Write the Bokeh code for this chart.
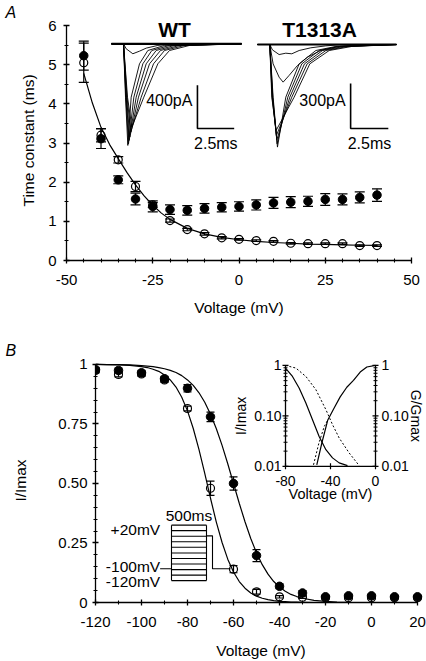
import math
from bokeh.plotting import figure
from bokeh.models import Range1d, FixedTicker, LogScale
from bokeh.embed import file_html
from bokeh.resources import INLINE
from bokeh.core.properties import value

FONT = "Liberation Sans"
INK = "black"

# ======================= Panel A data =======================
a_voltage = [-45, -40, -35, -30, -25, -20, -15, -10, -5, 0, 5, 10, 15, 20, 25, 30, 35, 40]
a_wt_tau = [5.05, 3.20, 2.57, 1.89, 1.42, 1.02, 0.79, 0.68, 0.58, 0.54, 0.51, 0.49, 0.44, 0.43, 0.43, 0.43, 0.38, 0.38]
a_wt_err = [0.50, 0.17, 0.08, 0.13, 0.06, 0.04, 0.03, 0.03, 0.03, 0.02, 0.02, 0.02, 0.02, 0.02, 0.02, 0.02, 0.02, 0.02]
a_mut_tau = [5.23, 3.11, 2.06, 1.57, 1.38, 1.30, 1.28, 1.33, 1.36, 1.38, 1.42, 1.47, 1.49, 1.51, 1.56, 1.56, 1.61, 1.67]
a_mut_err = [0.37, 0.25, 0.10, 0.15, 0.14, 0.12, 0.12, 0.12, 0.12, 0.12, 0.13, 0.14, 0.14, 0.13, 0.15, 0.14, 0.14, 0.16]
a_fit_v = [-45, -42.5, -40, -37.5, -35, -32.5, -30, -27.5, -25, -22.5, -20, -15, -10, -5, 0, 5, 10, 15, 20, 25, 30, 35, 40]
a_fit_tau = [4.78, 4.02, 3.40, 2.96, 2.60, 2.25, 1.93, 1.65, 1.41, 1.21, 1.05, 0.82, 0.68, 0.59, 0.53, 0.49, 0.46, 0.44, 0.42, 0.41, 0.40, 0.39, 0.385]
a_x_ticks = [-50, -25, 0, 25, 50]
a_x_labels = ["-50", "-25", "0", "25", "50"]
a_x_minor = [-45, -40, -35, -30, -20, -15, -10, -5, 5, 10, 15, 20, 30, 35, 40, 45]
a_y_ticks = [0, 1, 2, 3, 4, 5, 6]
a_y_labels = ["0", "1", "2", "3", "4", "5", "6"]
a_y_minor = [0.5, 1.5, 2.5, 3.5, 4.5, 5.5]

# current traces (time in ms, current in pA)
wt_trace_t = [
    [-0.82, 0, 0.136, 0.295, 0.522, 1.088, 1.655, 2.789, 8.03],
    [-0.82, 0, 0.159, 0.340, 0.703, 1.315, 1.927, 3.129, 8.03],
    [-0.82, 0, 0.181, 0.385, 0.862, 1.542, 2.222, 3.469, 8.03],
    [-0.82, 0, 0.204, 0.431, 1.020, 1.769, 2.517, 3.810, 8.03],
    [-0.82, 0, 0.238, 0.499, 1.202, 2.041, 2.789, 4.150, 8.03],
    [-0.82, 0, 0.272, 0.567, 1.383, 2.336, 3.129, 4.490, 8.03],
    [-0.82, 0, 0.181, 0.635, 1.088, 1.542, 2.336, 3.243, 8.03],
]
wt_trace_i = [
    [0, 0, -493, -939, -493, -185, -62, -15, 0],
    [0, 0, -493, -924, -493, -185, -62, -15, 0],
    [0, 0, -493, -893, -493, -185, -62, -15, 0],
    [0, 0, -493, -862, -493, -185, -62, -15, 0],
    [0, 0, -493, -816, -493, -185, -62, -15, 0],
    [0, 0, -493, -770, -493, -185, -62, -15, 0],
    [0, 0, -46, -92, -68, -40, -15, -3, 0],
]
wt_base_t = [-0.82, 8.03]
wt_base_i = [0, 0]
mut_trace_t = [
    [-0.82, 0, 0.221, 0.509, 1.062, 1.947, 3.053, 4.381, 8.40],
    [-0.82, 0, 0.199, 0.487, 1.195, 2.124, 3.274, 4.646, 8.40],
    [-0.82, 0, 0.177, 0.465, 1.327, 2.301, 3.496, 4.912, 8.40],
    [-0.82, 0, 0.155, 0.442, 1.460, 2.478, 3.717, 5.177, 8.40],
    [-0.82, 0, 0.133, 0.420, 1.615, 2.655, 3.938, 5.442, 8.40],
    [-0.82, 0, 0.221, 0.619, 0.885, 1.283, 1.836, 2.500, 3.385, 4.491, 5.929, 8.40],
    [-0.82, 0, 0.177, 0.619, 1.062, 1.460, 1.947, 2.721, 3.717, 4.602, 8.40],
]
mut_trace_i = [
    [0, 0, -351, -684, -351, -129, -40, -13, 0],
    [0, 0, -351, -662, -351, -129, -40, -13, 0],
    [0, 0, -351, -635, -351, -129, -40, -13, 0],
    [0, 0, -351, -606, -351, -129, -40, -13, 0],
    [0, 0, -351, -573, -351, -129, -40, -13, 0],
    [0, 0, -129, -218, -251, -206, -140, -84, -40, -13, -2, 0],
    [0, 0, -36, -67, -58, -62, -40, -22, -9, -2, 0],
]
mut_base_t = [-0.82, 8.40]
mut_base_i = [0, 0]
wt_bar = {"ms": 2.5, "pA": 400, "t0": 5.03, "i0": -783}
mut_bar = {"ms": 2.5, "pA": 300, "t0": 5.36, "i0": -560}

# ======================= Panel B data =======================
b_voltage = [-120, -110, -100, -90, -80, -70, -60, -50, -40, -30, -20, -10, 0, 10, 20]
b_wt = [0.975, 0.958, 0.96, 0.935, 0.815, 0.48, 0.14, 0.045, 0.024, 0.022, 0.02, 0.02, 0.02, 0.02, 0.02]
b_wt_err = [0.01, 0.01, 0.01, 0.01, 0.01, 0.03, 0.015, 0.01, 0.005, 0.005, 0.005, 0.005, 0.005, 0.005, 0.005]
b_mut = [0.978, 0.975, 0.965, 0.94, 0.90, 0.78, 0.50, 0.197, 0.068, 0.04, 0.024, 0.028, 0.028, 0.024, 0.024]
b_mut_err = [0.01, 0.01, 0.01, 0.01, 0.015, 0.02, 0.028, 0.025, 0.01, 0.01, 0.005, 0.005, 0.005, 0.005, 0.005]
b_fit_v = [-120, -115, -110, -105, -100, -97.5, -95, -92.5, -90, -87.5, -85, -82.5, -80, -77.5, -75,
           -72.5, -70, -67.5, -65, -62.5, -60, -57.5, -55, -52.5, -50, -47.5, -45, -42.5, -40,
           -37.5, -35, -32.5, -30, -25, -20, -15, -10, 0, 10, 20]
b_fit_wt = [1.000, 0.999, 0.998, 0.996, 0.991, 0.987, 0.980, 0.971, 0.956, 0.935, 0.905, 0.862, 0.805,
            0.731, 0.642, 0.542, 0.438, 0.339, 0.253, 0.182, 0.128, 0.088, 0.060, 0.040, 0.027, 0.018,
            0.012, 0.008, 0.005, 0.0035, 0.002, 0.0015, 0.001, 0.0, 0.0, 0.0, 0.0, 0.0, 0.0, 0.0]
b_fit_mut = [1.000, 0.999, 0.999, 0.998, 0.995, 0.993, 0.991, 0.987, 0.982, 0.975, 0.966, 0.953, 0.935,
             0.912, 0.881, 0.841, 0.791, 0.731, 0.661, 0.583, 0.500, 0.417, 0.339, 0.269, 0.209, 0.159,
             0.119, 0.088, 0.065, 0.047, 0.034, 0.025, 0.018, 0.009, 0.005, 0.002, 0.001, 0.0, 0.0, 0.0]
b_x_ticks = [-120, -100, -80, -60, -40, -20, 0, 20]
b_x_labels = ["-120", "-100", "-80", "-60", "-40", "-20", "0", "20"]
b_x_minor = [-110, -90, -70, -50, -30, -10, 10]
b_y_ticks = [0, 0.25, 0.5, 0.75, 1]
b_y_labels = ["0", "0.25", "0.50", "0.75", "1"]
b_y_minor = [0.05, 0.1, 0.15, 0.2, 0.3, 0.35, 0.4, 0.45, 0.55, 0.6, 0.65, 0.7, 0.8, 0.85, 0.9, 0.95]

# inset (log scale)
in_wt_inact_v = [-80, -73.8, -67.9, -61.9, -56.0, -50.1, -44.1, -38.2, -32.3, -24.9]
in_wt_inact = [0.888, 0.605, 0.357, 0.18, 0.084, 0.039, 0.0214, 0.0147, 0.0117, 0.0103]
in_mut_inact_v = [-80, -70.8, -61.9, -53.0, -44.1, -38.2, -32.3, -23.4, -14.5]
in_mut_inact = [1.0, 0.888, 0.605, 0.331, 0.133, 0.067, 0.0365, 0.0184, 0.0103]
in_wt_act_v = [-52.2, -47.7, -42.4, -37.0, -31.4, -25.5, -19.6, -13.6, -7.7, 0]
in_wt_act = [0.0107, 0.029, 0.083, 0.14, 0.238, 0.37, 0.507, 0.74, 0.93, 1.0]
in_mut_act_v = [-55.1, -50.3, -45.5, -42.4]
in_mut_act = [0.0107, 0.029, 0.062, 0.083]
in_y_ticks = [1, 0.1, 0.01]
in_y_labels = ["1", "0.10", "0.01"]
in_y_minor = [0.02, 0.03, 0.04, 0.05, 0.06, 0.07, 0.08, 0.09, 0.2, 0.3, 0.4, 0.5, 0.6, 0.7, 0.8, 0.9]
in_x_ticks = [-80, -40, 0]
in_x_labels = ["-80", "-40", "0"]

# stimulation protocol sketch (drawn in panel-B axis units)
proto_box_x = [-86.96, -71.74]
proto_lines_y = [0.325, 0.302, 0.278, 0.255, 0.232, 0.208, 0.185, 0.162, 0.138, 0.115, 0.092]
proto_step_x = [-71.74, -69.13, -69.13, -61.30]
proto_step_y = [0.280, 0.280, 0.142, 0.142]
proto_hold_x = [-91.9, -86.96]
proto_hold_y = [0.142, 0.142]

W = 426
HA = 328
HB = 333


def style_axis(ax, ticks, labels, minor, title, tick_standoff, title_standoff):
    ax.ticker = FixedTicker(ticks=ticks, minor_ticks=minor)
    ax.major_label_overrides = {t: l for t, l in zip(ticks, labels)}
    ax.axis_line_color = INK
    ax.axis_line_width = 1.3
    ax.major_tick_line_color = INK
    ax.major_tick_line_width = 1.3
    ax.minor_tick_line_color = INK
    ax.minor_tick_line_width = 1.1
    ax.major_tick_in = 3
    ax.major_tick_out = 3
    ax.minor_tick_in = 2
    ax.minor_tick_out = 2
    ax.major_label_text_font = FONT
    ax.major_label_text_font_size = "15px"
    ax.major_label_text_color = INK
    ax.major_label_standoff = tick_standoff
    ax.axis_label = title
    ax.axis_label_text_font = FONT
    ax.axis_label_text_font_size = "15.5px"
    ax.axis_label_text_font_style = "normal"
    ax.axis_label_text_color = INK
    ax.axis_label_standoff = title_standoff


def panel_title(p, letter, offset):
    p.title.text = letter
    p.title.text_font = FONT
    p.title.text_font_size = "16px"
    p.title.text_font_style = "italic"
    p.title.text_color = INK
    p.title.align = "left"
    p.title.offset = offset
    p.title.standoff = 0


def error_bars(p, x, y, err, cap, **kw):
    lo = [v - e for v, e in zip(y, err)]
    hi = [v + e for v, e in zip(y, err)]
    p.segment(x, lo, x, hi, line_color=INK, line_width=1.2, **kw)
    p.scatter(x, lo, marker="dash", size=cap, line_color=INK, line_width=1.2, **kw)
    p.scatter(x, hi, marker="dash", size=cap, line_color=INK, line_width=1.2, **kw)


# ======================= Panel A =======================
pA = figure(width=W, height=HA, output_backend="svg", toolbar_location=None,
            x_range=Range1d(-50, 50), y_range=Range1d(0, 6.128),
            extra_x_ranges={"twt": Range1d(-3.878, 19.592), "tmut": Range1d(-13.48, 9.397)},
            extra_y_ranges={"iwt": Range1d(-2002.3, 215.3), "imut": Range1d(-1440.0, 160.0)},
            min_border_left=66, min_border_right=15, min_border_top=20, min_border_bottom=68)
pA.outline_line_color = None
pA.xgrid.visible = False
pA.ygrid.visible = False
pA.background_fill_color = "white"
pA.border_fill_color = "white"
panel_title(pA, "A", -61)
style_axis(pA.xaxis[0], a_x_ticks, a_x_labels, a_x_minor, "Voltage (mV)", 11, 11)
style_axis(pA.yaxis[0], a_y_ticks, a_y_labels, a_y_minor, "Time constant (ms)", 7, 8)
pA.yaxis[0].bounds = (0, 6)

# traces
pA.multi_line(wt_trace_t, wt_trace_i, line_color=INK, line_width=0.9,
              x_range_name="twt", y_range_name="iwt")
pA.line(wt_base_t, wt_base_i, line_color=INK, line_width=2.2, x_range_name="twt", y_range_name="iwt")
pA.multi_line(mut_trace_t, mut_trace_i, line_color=INK, line_width=0.9,
              x_range_name="tmut", y_range_name="imut")
pA.line(mut_base_t, mut_base_i, line_color=INK, line_width=2.2, x_range_name="tmut", y_range_name="imut")

for bar, xr, yr, lab in [(wt_bar, "twt", "iwt", "400pA"), (mut_bar, "tmut", "imut", "300pA")]:
    t0, i0 = bar["t0"], bar["i0"]
    pA.line([t0, t0, t0 + bar["ms"]], [i0 + bar["pA"], i0, i0], line_color=INK, line_width=1.6,
            x_range_name=xr, y_range_name=yr)
    pA.text([t0], [i0 + bar["pA"] / 2], text=[lab], x_offset=-5, y_offset=-6,
            text_align="right", text_baseline="middle", text_font=value(FONT),
            text_font_size="16px", text_color=INK, x_range_name=xr, y_range_name=yr)
    pA.text([t0 + bar["ms"] / 2], [i0], text=["2.5ms"], y_offset=14.5,
            text_align="center", text_baseline="middle", text_font=value(FONT),
            text_font_size="16px", text_color=INK, x_range_name=xr, y_range_name=yr)

pA.text([3.47], [130], text=["WT"], text_align="center", text_baseline="middle",
        text_font=value(FONT), text_font_size="21px", text_font_style="bold", text_color=INK,
        x_range_name="twt", y_range_name="iwt")
pA.text([3.30], [98], text=["T1313A"], text_align="center", text_baseline="middle",
        text_font=value(FONT), text_font_size="21px", text_font_style="bold", text_color=INK,
        x_range_name="tmut", y_range_name="imut")

# data
pA.scatter(a_voltage, a_wt_tau, marker="circle", size=8, fill_color="white", line_color=INK, line_width=1.2)
error_bars(pA, a_voltage, a_wt_tau, a_wt_err, 10)
pA.scatter(a_voltage, a_mut_tau, marker="circle", size=8.5, fill_color=INK, line_color=INK)
error_bars(pA, a_voltage, a_mut_tau, a_mut_err, 10)
pA.line(a_fit_v, a_fit_tau, line_color=INK, line_width=1.2)

# ======================= Panel B =======================
pB = figure(width=W, height=HB, output_backend="svg", toolbar_location=None,
            x_range=Range1d(-120, 23.913), y_range=Range1d(0, 1.025),
            extra_x_ranges={"ix": Range1d(-248.89, 45.33)},
            extra_y_ranges={"iy": Range1d(1.995e-5, 1.373)},
            extra_y_scales={"iy": LogScale()},
            min_border_left=95, min_border_right=0, min_border_top=30, min_border_bottom=57)
pB.outline_line_color = None
pB.xgrid.visible = False
pB.ygrid.visible = False
pB.background_fill_color = "white"
pB.border_fill_color = "white"
panel_title(pB, "B", -90)
style_axis(pB.xaxis[0], b_x_ticks, b_x_labels, b_x_minor, "Voltage (mV)", 11, 12)
style_axis(pB.yaxis[0], b_y_ticks, b_y_labels, b_y_minor, "I/Imax", 5, 26)
pB.xaxis[0].bounds = (-120, 20)
pB.yaxis[0].bounds = (0, 1)

pB.scatter(b_voltage, b_wt, marker="circle", size=8, fill_color="white", line_color=INK, line_width=1.2)
error_bars(pB, b_voltage, b_wt, b_wt_err, 8)
pB.scatter(b_voltage, b_mut, marker="circle", size=8.5, fill_color=INK, line_color=INK)
error_bars(pB, b_voltage, b_mut, b_mut_err, 8)
pB.line(b_fit_v, b_fit_wt, line_color=INK, line_width=1.2)
pB.line(b_fit_v, b_fit_mut, line_color=INK, line_width=1.2)

# protocol sketch
pB.multi_line([proto_box_x for _ in proto_lines_y], [[y, y] for y in proto_lines_y],
              line_color=INK, line_width=1.1)
pB.multi_line([[proto_box_x[0]] * 2, [proto_box_x[1]] * 2],
              [[proto_lines_y[-1], proto_lines_y[0]]] * 2, line_color=INK, line_width=1.1)
pB.line(proto_step_x, proto_step_y, line_color=INK, line_width=1.1)
pB.line(proto_hold_x, proto_hold_y, line_color=INK, line_width=1.1)
pB.text([sum(proto_box_x) / 2], [proto_lines_y[0]], text=["500ms"], y_offset=-10,
        text_align="center", text_baseline="middle", text_font=value(FONT),
        text_font_size="15.5px", text_color=INK)
pB.text([proto_hold_x[0]] * 3, [0.308, 0.150, 0.0875], text=["+20mV", "-100mV", "-120mV"],
        text_align="right", text_baseline="middle", text_font=value(FONT),
        text_font_size="15.5px", text_color=INK)

# inset
IX, IY = "ix", "iy"
pB.line([-80, -80, 0, 0], [1, 0.01, 0.01, 1], line_color=INK, line_width=1.3,
        x_range_name=IX, y_range_name=IY)
for xv in (-80, 0):
    pB.scatter([xv] * len(in_y_ticks), in_y_ticks, marker="dash", size=6, line_color=INK,
               line_width=1.2, x_range_name=IX, y_range_name=IY)
    pB.scatter([xv] * len(in_y_minor), in_y_minor, marker="dash", size=4, line_color=INK,
               line_width=1.0, x_range_name=IX, y_range_name=IY)
pB.scatter(in_x_ticks, [0.01] * len(in_x_ticks), marker="dash", angle=math.pi / 2, size=6,
           line_color=INK, line_width=1.2, x_range_name=IX, y_range_name=IY)
pB.text([-80] * 3, in_y_ticks, text=in_y_labels, x_offset=-4, text_align="right",
        text_baseline="middle", text_font=value(FONT), text_font_size="14px", text_color=INK,
        x_range_name=IX, y_range_name=IY)
pB.text([0] * 3, in_y_ticks, text=in_y_labels, x_offset=6, text_align="left",
        text_baseline="middle", text_font=value(FONT), text_font_size="14px", text_color=INK,
        x_range_name=IX, y_range_name=IY)
pB.text(in_x_ticks, [0.01] * 3, text=in_x_labels, y_offset=15, text_align="center",
        text_baseline="middle", text_font=value(FONT), text_font_size="14px", text_color=INK,
        x_range_name=IX, y_range_name=IY)
pB.text([-40], [0.01], text=["Voltage (mV)"], y_offset=28, text_align="center",
        text_baseline="middle", text_font=value(FONT), text_font_size="14.5px", text_color=INK,
        x_range_name=IX, y_range_name=IY)
pB.text([-80], [0.1], text=["I/Imax"], x_offset=-45, angle=math.pi / 2, text_align="center",
        text_baseline="middle", text_font=value(FONT), text_font_size="14px", text_color=INK,
        x_range_name=IX, y_range_name=IY)
pB.text([0], [0.1], text=["G/Gmax"], x_offset=40, angle=-math.pi / 2, text_align="center",
        text_baseline="middle", text_font=value(FONT), text_font_size="14px", text_color=INK,
        x_range_name=IX, y_range_name=IY)
pB.line(in_wt_inact_v, in_wt_inact, line_color=INK, line_width=1.2, x_range_name=IX, y_range_name=IY)
pB.line(in_mut_inact_v, in_mut_inact, line_color=INK, line_width=1.0, line_dash="2 2",
        x_range_name=IX, y_range_name=IY)
pB.line(in_wt_act_v, in_wt_act, line_color=INK, line_width=1.2, x_range_name=IX, y_range_name=IY)
pB.line(in_mut_act_v, in_mut_act, line_color=INK, line_width=1.0, line_dash="2 2",
        x_range_name=IX, y_range_name=IY)

open("out.html", "w").write(file_html([pA, pB], INLINE))
